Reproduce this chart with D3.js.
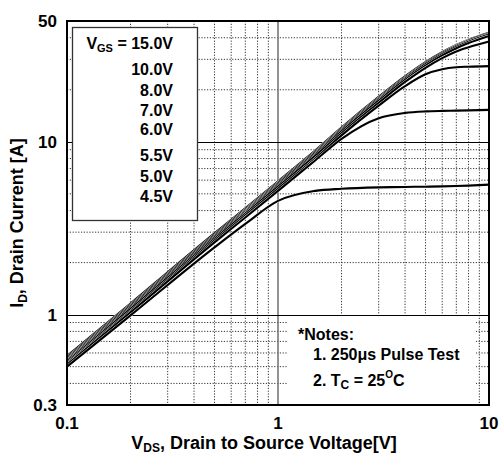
<!DOCTYPE html>
<html>
<head>
<meta charset="utf-8">
<script src="https://cdn.jsdelivr.net/npm/d3@7"></script>
<style>
  body { margin: 0; background: #fff; }
  text { font-family: "Liberation Sans", Arial, sans-serif; font-weight: bold; fill: #000; }
</style>
</head>
<body>
<div id="chart"></div>
<script>
// drain voltage sample points [V]
const vds = [0.1, 0.2, 0.5, 0.7, 1, 1.5, 2, 3, 4, 5, 6, 7, 8, 10];

// drain current [A] for each gate voltage
const id15 = [0.575, 1.16, 2.95, 4.12, 5.9, 8.9, 12.1, 18.2, 23.9, 28.9, 33.0, 36.3, 39.0, 42.8];
const id10 = [0.565, 1.14, 2.9, 4.05, 5.8, 8.75, 11.9, 17.9, 23.5, 28.5, 32.6, 35.9, 38.6, 42.3];
const id8 = [0.555, 1.12, 2.85, 3.98, 5.7, 8.6, 11.7, 17.6, 23.2, 28.1, 32.1, 35.4, 38.0, 41.8];
const id7 = [0.545, 1.10, 2.8, 3.92, 5.6, 8.45, 11.5, 17.3, 22.8, 27.6, 31.6, 34.8, 37.3, 41.0];
const id6 = [0.535, 1.08, 2.75, 3.85, 5.5, 8.3, 11.2, 16.8, 22.2, 26.8, 30.5, 33.3, 35.2, 38.0];
const id55 = [0.525, 1.05, 2.68, 3.75, 5.35, 8.0, 10.9, 16.2, 21.0, 24.6, 26.3, 27.0, 27.2, 27.4];
const id5 = [0.515, 1.03, 2.62, 3.65, 5.2, 7.8, 10.4, 13.7, 14.7, 15.0, 15.1, 15.15, 15.2, 15.3];
const id45 = [0.50, 0.99, 2.45, 3.35, 4.55, 5.2, 5.35, 5.45, 5.48, 5.5, 5.52, 5.55, 5.58, 5.65];

const vgsLabels = ['15.0V', '10.0V', '8.0V', '7.0V', '6.0V', '5.5V', '5.0V', '4.5V'];
const xTickLabels = [0.1, 1, 10];
const yTickLabels = [0.3, 1, 10, 50];
const xMinorGrid = [0.2, 0.3, 0.4, 0.5, 0.6, 0.7, 0.8, 0.9, 2, 3, 4, 5, 6, 7, 8, 9];
const yMinorGrid = [0.4, 0.5, 0.6, 0.7, 0.8, 0.9, 2, 3, 4, 5, 6, 7, 8, 9, 20, 30, 40];
const noteLines = ['*Notes:', '1. 250\u03bcs Pulse Test'];

const series = [id15, id10, id8, id7, id6, id55, id5, id45];

const width = 501, height = 456;
const plotL = 67, plotR = 489, plotT = 21, plotB = 405;

const svg = d3.select('#chart')
  .append('svg')
  .attr('width', width)
  .attr('height', height);

const x = d3.scaleLog().domain([0.1, 10]).range([plotL, plotR]);
const y = d3.scaleLog().domain([0.3, 50]).range([plotB, plotT]);

// minor dotted grid
svg.append('g')
  .selectAll('line')
  .data(xMinorGrid)
  .enter().append('line')
  .attr('x1', d => x(d)).attr('x2', d => x(d))
  .attr('y1', plotT).attr('y2', plotB)
  .attr('stroke', '#333')
  .attr('stroke-width', 1)
  .attr('stroke-dasharray', '1.2,1.6');

svg.append('g')
  .selectAll('line')
  .data(yMinorGrid)
  .enter().append('line')
  .attr('x1', plotL).attr('x2', plotR)
  .attr('y1', d => y(d)).attr('y2', d => y(d))
  .attr('stroke', '#333')
  .attr('stroke-width', 1)
  .attr('stroke-dasharray', '1.2,1.6');

// major grid
svg.append('line')
  .attr('x1', x(1)).attr('x2', x(1))
  .attr('y1', plotT).attr('y2', plotB)
  .attr('stroke', '#777')
  .attr('stroke-width', 1.6);

svg.append('g')
  .selectAll('line')
  .data([1, 10])
  .enter().append('line')
  .attr('x1', plotL).attr('x2', plotR)
  .attr('y1', d => Math.round(y(d)) + 0.5).attr('y2', d => Math.round(y(d)) + 0.5)
  .attr('stroke', '#000')
  .attr('stroke-width', 1.2);

// legend box and notes box hide the grid underneath
svg.append('rect')
  .attr('x', 72.5).attr('y', 27.5)
  .attr('width', 125).attr('height', 193)
  .attr('fill', '#fff')
  .attr('stroke', '#333')
  .attr('stroke-width', 1.3);

svg.append('rect')
  .attr('x', 288).attr('y', Math.round(y(1)) + 1.2)
  .attr('width', 188).attr('height', plotB - y(1) - 1)
  .attr('fill', '#fff');

// curves
const line = d3.line()
  .x((d, i) => x(vds[i]))
  .y(d => y(d))
  .curve(d3.curveMonotoneX);

const curves = svg.append('g');
series.forEach(s => {
  curves.append('path')
    .attr('d', line(s))
    .attr('fill', 'none')
    .attr('stroke', '#fff')
    .attr('stroke-width', 2.8);
  curves.append('path')
    .attr('d', line(s))
    .attr('fill', 'none')
    .attr('stroke', '#000')
    .attr('stroke-width', 2.1);
});

// frame
svg.append('rect')
  .attr('x', plotL).attr('y', plotT)
  .attr('width', plotR - plotL).attr('height', plotB - plotT)
  .attr('fill', 'none')
  .attr('stroke', '#000')
  .attr('stroke-width', 2);

// tick labels
svg.append('g')
  .selectAll('text')
  .data(xTickLabels)
  .enter().append('text')
  .attr('x', d => x(d))
  .attr('y', 429)
  .attr('text-anchor', 'middle')
  .style('font-size', '17px')
  .text(d => d);

svg.append('g')
  .selectAll('text')
  .data(yTickLabels)
  .enter().append('text')
  .attr('x', 57)
  .attr('y', d => y(d) + 6)
  .attr('text-anchor', 'end')
  .style('font-size', '17px')
  .text(d => d);

// axis titles
const xTitle = svg.append('text')
  .attr('x', 264)
  .attr('y', 449)
  .attr('text-anchor', 'middle')
  .style('font-size', '18px');
xTitle.append('tspan').text('V');
xTitle.append('tspan').attr('dy', 3).style('font-size', '12px').text('DS');
xTitle.append('tspan').attr('dy', -3).text(', Drain to Source Voltage[V]');

const yTitle = svg.append('text')
  .attr('transform', 'translate(23,223) rotate(-90)')
  .attr('text-anchor', 'middle')
  .style('font-size', '18px');
yTitle.append('tspan').text('I');
yTitle.append('tspan').attr('dy', 4).style('font-size', '12px').text('D');
yTitle.append('tspan').attr('dy', -4).text(', Drain Current [A]');

// legend text
const legendY = [49, 75, 96, 116, 135, 161, 182, 202];
const legend = svg.append('g').style('font-size', '16px');
vgsLabels.forEach((lab, i) => {
  const t = legend.append('text')
    .attr('x', 173)
    .attr('y', legendY[i])
    .attr('text-anchor', 'end');
  if (i === 0) {
    t.append('tspan').text('V');
    t.append('tspan').attr('dy', 3).style('font-size', '11px').text('GS');
    t.append('tspan').attr('dy', -3).text(' = ' + lab);
  } else {
    t.text(lab);
  }
});

// notes
const notes = svg.append('g').style('font-size', '16px');
notes.append('text').attr('x', 298).attr('y', 340).text(noteLines[0]);
notes.append('text').attr('x', 313).attr('y', 360).text(noteLines[1]);
const n2 = notes.append('text').attr('x', 313).attr('y', 386);
n2.append('tspan').text('2. T');
n2.append('tspan').attr('dy', 3).style('font-size', '12px').text('C');
n2.append('tspan').attr('dy', -3).text(' = 25');
n2.append('tspan').attr('dy', -8).style('font-size', '10px').text('O');
n2.append('tspan').attr('dy', 8).text('C');
</script>
</body>
</html>
